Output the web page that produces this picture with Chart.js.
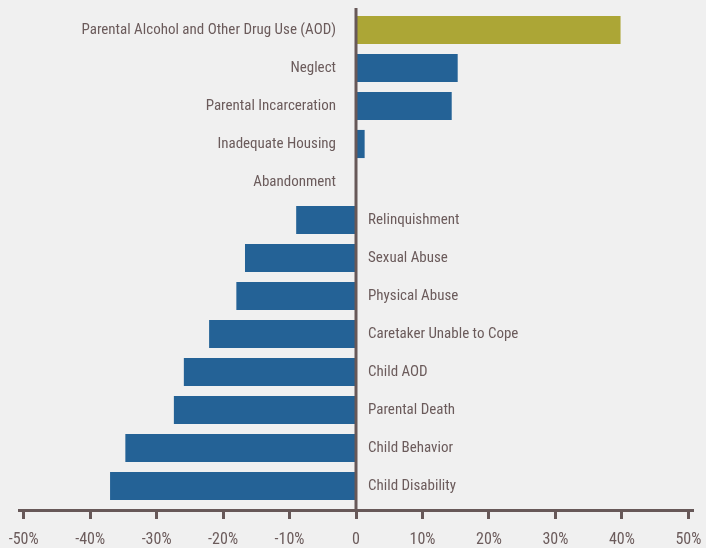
<!DOCTYPE html>
<html>
<head>
<meta charset="utf-8">
<script src="https://cdn.jsdelivr.net/npm/chart.js@4.4.0/dist/chart.umd.min.js"></script>
<style>
  html, body { margin: 0; padding: 0; background: #f0f0f0; }
  #wrap { width: 706px; height: 548px; position: relative; }
</style>
</head>
<body>
<div id="wrap"><canvas id="chart"></canvas></div>
<script>
// Reasons for removal, change in percent
const categories = [
  "Parental Alcohol and Other Drug Use (AOD)",
  "Neglect",
  "Parental Incarceration",
  "Inadequate Housing",
  "Abandonment",
  "Relinquishment",
  "Sexual Abuse",
  "Physical Abuse",
  "Caretaker Unable to Cope",
  "Child AOD",
  "Parental Death",
  "Child Behavior",
  "Child Disability",
];
const changeValues = [39.8, 15.3, 14.4, 1.3, 0, -9.0, -16.7, -18.0, -22.1, -25.9, -27.4, -34.7, -37.0];
const tickValues = [-50, -40, -30, -20, -10, 0, 10, 20, 30, 40, 50];

const AXIS = "#675858";
const TEXT = "#6b5b5b";
const BLUE = "#246296";
const GOLD = "#aca636";
const FONT = "'Liberation Sans Narrow', 'Roboto Condensed', 'DejaVu Sans Condensed', sans-serif";

Chart.defaults.font.family = FONT;
Chart.defaults.color = TEXT;

// labels sit beside the zero line, zero line drawn on top of the bars
const zeroLabels = {
  id: "zeroLabels",
  afterDatasetsDraw(chart) {
    const { ctx, chartArea } = chart;
    const xs = chart.scales.x;
    const ys = chart.scales.y;
    const x0 = xs.getPixelForValue(0);

    ctx.save();
    ctx.font = "15px " + FONT;
    ctx.fillStyle = TEXT;
    ctx.textBaseline = "middle";
    categories.forEach((cat, i) => {
      const y = ys.getPixelForValue(i);
      if (changeValues[i] >= 0) {
        ctx.textAlign = "right";
        ctx.fillText(cat, x0 - 20, y);
      } else {
        ctx.textAlign = "left";
        ctx.fillText(cat, x0 + 12, y);
      }
    });

    ctx.strokeStyle = AXIS;
    ctx.lineWidth = 3;
    ctx.beginPath();
    ctx.moveTo(x0, chartArea.top - 3);
    ctx.lineTo(x0, chartArea.bottom + 6);
    ctx.stroke();
    ctx.restore();
  },
};

new Chart(document.getElementById("chart"), {
  type: "bar",
  data: {
    labels: categories,
    datasets: [
      {
        data: changeValues,
        xAxisID: "x",
        yAxisID: "y",
        backgroundColor: changeValues.map((v, i) => (i === 0 ? GOLD : BLUE)),
        borderWidth: 0,
        categoryPercentage: 1,
        barPercentage: 0.74,
      },
    ],
  },
  options: {
    indexAxis: "y",
    responsive: true,
    maintainAspectRatio: false,
    animation: false,
    layout: { padding: { left: 19, right: 13, top: 11, bottom: 0 } },
    plugins: {
      legend: { display: false },
      tooltip: { enabled: false },
    },
    scales: {
      y: {
        type: "category",
        display: false,
      },
      gap: {
        type: "linear",
        position: "bottom",
        axis: "x",
        weight: 0,
        display: true,
        ticks: { display: false },
        grid: { display: false },
        border: { display: false },
        afterFit: (s) => { s.height = 5; },
      },
      x: {
        type: "linear",
        position: "bottom",
        weight: 1,
        min: -50.7,
        max: 50.7,
        afterBuildTicks: (s) => {
          s.ticks = tickValues.map((v) => ({ value: v }));
        },
        afterFit: (s) => {
          s.height = 38;
          s.paddingLeft = 0;
          s.paddingRight = 0;
        },
        ticks: {
          padding: 11,
          font: { size: 16 },
          color: TEXT,
          callback: (v) => (v === 0 ? "0" : v + "%"),
        },
        grid: {
          drawOnChartArea: false,
          drawTicks: true,
          tickLength: 9,
          tickWidth: 3,
          color: AXIS,
        },
        border: { color: AXIS, width: 3 },
      },
    },
  },
  plugins: [zeroLabels],
});
</script>
</body>
</html>
